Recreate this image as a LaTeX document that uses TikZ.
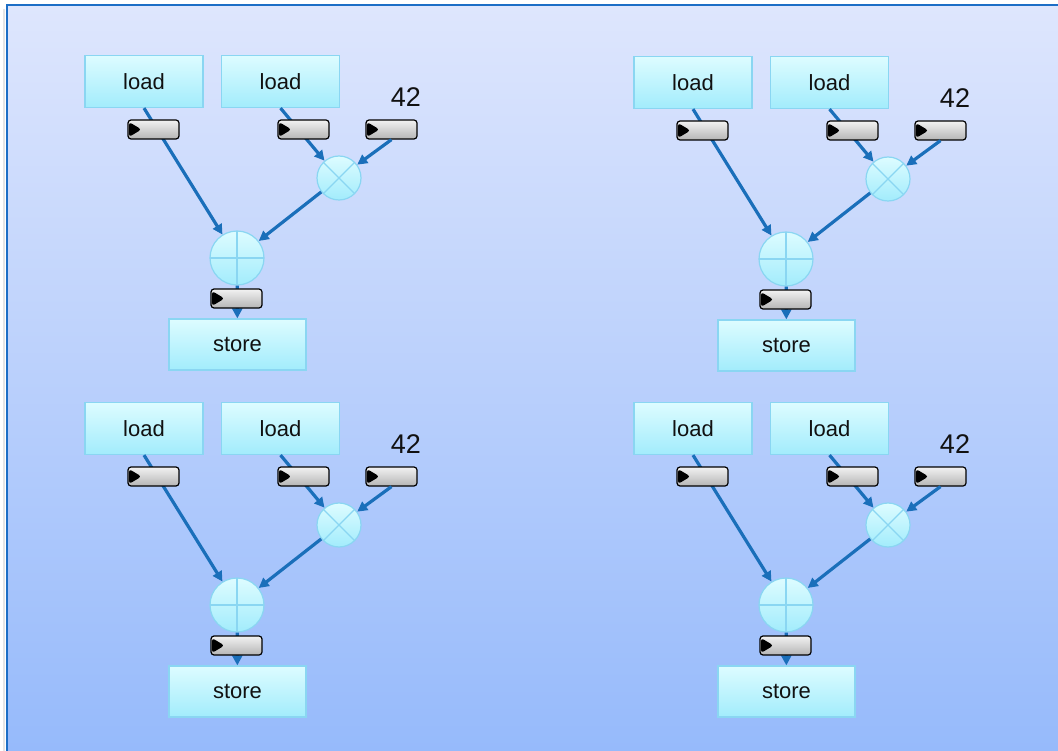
\documentclass[tikz,border=0pt]{standalone}
\usepackage{fontspec}
\setsansfont{Liberation Sans}
\usetikzlibrary{arrows.meta}

\definecolor{bgtop}{HTML}{DEE6FD}
\definecolor{bgbot}{HTML}{96BAFB}
\definecolor{framecol}{HTML}{1C6EC6}
\definecolor{boxtop}{HTML}{DDFCFF}
\definecolor{boxbot}{HTML}{A2ECFC}
\definecolor{boxline}{HTML}{8AD6F2}
\definecolor{regtop}{HTML}{F2F2F2}
\definecolor{regbot}{HTML}{B5B5B5}
\definecolor{wire}{HTML}{1A6FBA}
\definecolor{ink}{HTML}{111111}

\tikzset{
  opbox/.style={draw=boxline, line width=1.2pt, top color=boxtop, bottom color=boxbot,
    inner sep=0pt, text=ink, font=\sffamily\fontsize{22}{26}\selectfont},
  alu/.style={circle, draw=boxline, line width=1.2pt, top color=boxtop, bottom color=boxbot,
    inner sep=0pt},
  addop/.style={alu, minimum size=54pt,
    path picture={\draw[boxline, line width=1.2pt]
      (path picture bounding box.north) -- (path picture bounding box.south)
      (path picture bounding box.west) -- (path picture bounding box.east);}},
  mulop/.style={alu, minimum size=44pt,
    path picture={\draw[boxline, line width=1.2pt]
      (path picture bounding box.north west) -- (path picture bounding box.south east)
      (path picture bounding box.north east) -- (path picture bounding box.south west);}},
  latch/.style={draw=black, line width=1.2pt, rounded corners=3pt,
    top color=regtop, bottom color=regbot, minimum width=51pt, minimum height=19pt,
    inner sep=0pt,
    path picture={\fill[black]
      ([xshift=1pt,yshift=-2pt]path picture bounding box.north west) --
      ([xshift=1pt,yshift=2pt]path picture bounding box.south west) --
      ([xshift=13.5pt]path picture bounding box.west) -- cycle;}},
  flow/.style={draw=wire, line width=3.2pt, -{Triangle[length=10pt,width=10pt]}},
  constlabel/.style={text=ink, inner sep=0pt, font=\sffamily\fontsize{27}{30}\selectfont},
  dataflow/.pic={
    % operation boxes and arithmetic units
    \node[opbox, minimum width=118pt, minimum height=52pt] (-ldA) at (144,81.5) {load};
    \node[opbox, minimum width=118pt, minimum height=52pt] (-ldB) at (280.5,81.5) {load};
    \node[opbox, minimum width=137pt, minimum height=51pt] (-st) at (237.5,344.5) {store};
    \node[mulop] (-mul) at (339,178) {};
    \node[addop] (-add) at (237,258) {};
    \node[constlabel] (-k) at (406,97) {42};
    % data paths running beneath the pipeline registers
    \draw[flow] (-ldA.south) -- (-add);
    \draw[flow] (-ldB.south) -- (-mul);
    \draw[flow] (-mul) -- (-add);
    \draw[flow] (-add) -- (-st);
    % pipeline registers
    \node[latch] (-rA) at (153.5,129.5) {};
    \node[latch] (-rB) at (303.5,129.5) {};
    \node[latch] (-rK) at (391.5,129.5) {};
    \node[latch] (-rS) at (236.5,298.5) {};
    \draw[flow] (-rK.south) -- (-mul);
  }
}

\begin{document}
\begin{tikzpicture}[x=1pt,y=-1pt]
  \useasboundingbox (0,0) rectangle (1058,751);
  \fill[white] (0,0) rectangle (1058,751);
  % soft shadow and slide panel
  \draw[black!10, line width=2pt] (4,9) -- (4,751);
  \fill[top color=bgtop, bottom color=bgbot] (7,5) rectangle (1058,751);
  \draw[framecol, line width=2.5pt] (7,751) -- (7,5) -- (1058,5);
  % four copies of the same dataflow graph
  \pic (tl) at (0,0) {dataflow};
  \pic (tr) at (549,1) {dataflow};
  \pic (bl) at (0,347) {dataflow};
  \pic (br) at (549,347) {dataflow};
\end{tikzpicture}
\end{document}
